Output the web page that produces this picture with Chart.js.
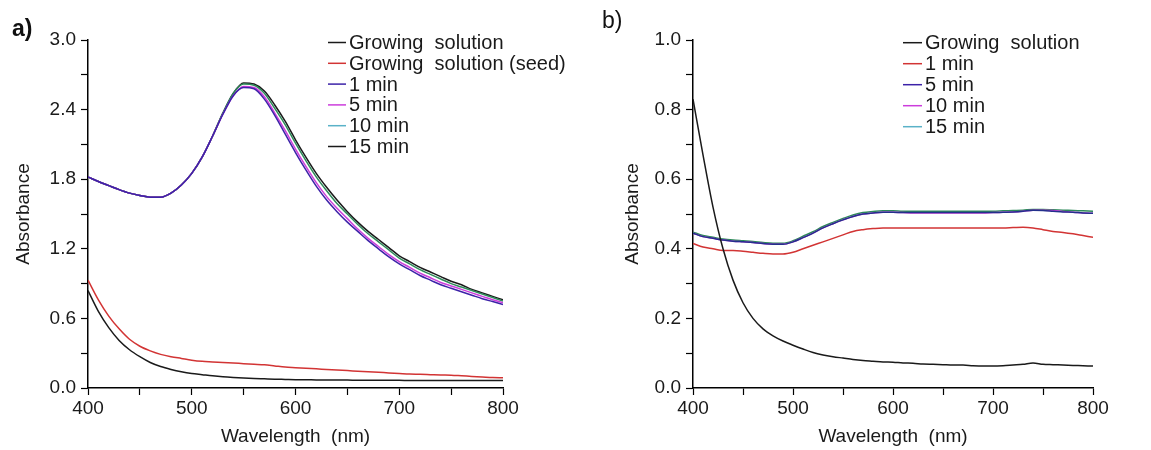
<!DOCTYPE html>
<html>
<head>
<meta charset="utf-8">
<script src="https://cdn.jsdelivr.net/npm/chart.js@4.4.1/dist/chart.umd.min.js"></script>
<style>
  html, body { margin: 0; padding: 0; background: #fff; }
  #wrap { position: relative; width: 1151px; height: 450px; overflow: hidden; }
  .panel { position: absolute; top: 0; }
  .tag { position: absolute; font-family: "Liberation Sans", Arial, sans-serif; font-size: 23px; color: #111; line-height: 1; }
</style>
</head>
<body>
<div id="wrap">
  <div class="panel" style="left:0px"><canvas id="chartA" width="590" height="450"></canvas></div>
  <div class="panel" style="left:590px"><canvas id="chartB" width="561" height="450"></canvas></div>
  <div class="tag" style="left:12px;top:17px;font-weight:bold">a)</div>
  <div class="tag" style="left:602px;top:9px">b)</div>
</div>
<script>
// wavelength grid shared by both panels (nm)
const wavelengths = [400, 410, 420, 430, 440, 450, 460, 470, 480, 490, 500, 510, 520, 530, 540, 550, 560, 570, 580, 590, 600,
  610, 620, 630, 640, 650, 660, 670, 680, 690, 700, 710, 720, 730, 740, 750, 760, 770, 780, 790, 800];

// panel a)
const aGrowing = [0.84, 0.66, 0.52, 0.41, 0.33, 0.27, 0.22, 0.185, 0.16, 0.14, 0.125, 0.115, 0.105, 0.097, 0.091, 0.086, 0.082, 0.079, 0.076, 0.074, 0.072,
  0.071, 0.07, 0.069, 0.068, 0.068, 0.067, 0.067, 0.066, 0.066, 0.066, 0.065, 0.065, 0.065, 0.065, 0.064, 0.064, 0.064, 0.064, 0.064, 0.064];
const aSeed = [0.93, 0.76, 0.62, 0.51, 0.42, 0.36, 0.32, 0.29, 0.27, 0.255, 0.24, 0.23, 0.225, 0.22, 0.215, 0.21, 0.205, 0.2, 0.19, 0.18, 0.175,
  0.17, 0.165, 0.16, 0.155, 0.15, 0.145, 0.14, 0.135, 0.13, 0.125, 0.12, 0.118, 0.115, 0.112, 0.11, 0.105, 0.1, 0.095, 0.09, 0.088];
const aMin1 = [1.82, 1.78, 1.745, 1.71, 1.68, 1.66, 1.645, 1.645, 1.68, 1.75, 1.85, 1.99, 2.17, 2.36, 2.52, 2.59, 2.58, 2.49, 2.35, 2.19, 2.03,
  1.88, 1.74, 1.62, 1.52, 1.43, 1.35, 1.27, 1.2, 1.13, 1.07, 1.02, 0.97, 0.93, 0.89, 0.86, 0.83, 0.8, 0.77, 0.745, 0.72];
const aMin5 = [1.82, 1.78, 1.745, 1.71, 1.68, 1.66, 1.645, 1.645, 1.68, 1.75, 1.85, 1.99, 2.17, 2.36, 2.52, 2.6, 2.59, 2.51, 2.37, 2.22, 2.06,
  1.91, 1.77, 1.65, 1.55, 1.46, 1.37, 1.29, 1.22, 1.15, 1.09, 1.04, 0.99, 0.95, 0.91, 0.88, 0.85, 0.82, 0.79, 0.76, 0.735];
const aMin10 = [1.82, 1.78, 1.745, 1.71, 1.68, 1.66, 1.645, 1.645, 1.68, 1.75, 1.85, 1.99, 2.17, 2.37, 2.54, 2.62, 2.61, 2.54, 2.41, 2.27, 2.11,
  1.96, 1.82, 1.7, 1.59, 1.5, 1.41, 1.33, 1.26, 1.19, 1.12, 1.07, 1.02, 0.98, 0.94, 0.9, 0.87, 0.84, 0.81, 0.78, 0.75];
const aMin15 = [1.82, 1.78, 1.745, 1.71, 1.68, 1.66, 1.645, 1.645, 1.68, 1.75, 1.85, 1.99, 2.17, 2.37, 2.54, 2.63, 2.62, 2.56, 2.44, 2.3, 2.14,
  1.99, 1.85, 1.73, 1.62, 1.52, 1.43, 1.35, 1.28, 1.21, 1.14, 1.09, 1.04, 1.0, 0.96, 0.92, 0.89, 0.85, 0.82, 0.79, 0.76];

// panel b)
const bGrowing = [0.83, 0.67, 0.52, 0.4, 0.31, 0.245, 0.2, 0.17, 0.15, 0.135, 0.123, 0.112, 0.102, 0.095, 0.09, 0.086, 0.082, 0.079, 0.077, 0.075, 0.074,
  0.072, 0.071, 0.069, 0.068, 0.067, 0.066, 0.066, 0.064, 0.063, 0.063, 0.064, 0.066, 0.068, 0.072, 0.068, 0.067, 0.066, 0.065, 0.064, 0.063];
const bMin1 = [0.415, 0.405, 0.4, 0.395, 0.395, 0.393, 0.39, 0.387, 0.385, 0.385, 0.39, 0.4, 0.41, 0.42, 0.43, 0.44, 0.45, 0.455, 0.458, 0.46, 0.46,
  0.46, 0.46, 0.46, 0.46, 0.46, 0.46, 0.46, 0.46, 0.46, 0.46, 0.46, 0.461, 0.462, 0.46, 0.455, 0.45, 0.447, 0.443, 0.438, 0.433];
const bMin5 = [0.445, 0.435, 0.43, 0.425, 0.422, 0.42, 0.418, 0.415, 0.413, 0.413, 0.42, 0.432, 0.445, 0.46, 0.472, 0.483, 0.493, 0.5, 0.503, 0.505, 0.505,
  0.504, 0.504, 0.504, 0.504, 0.504, 0.504, 0.504, 0.504, 0.504, 0.504, 0.505, 0.506, 0.508, 0.511, 0.51, 0.508, 0.506, 0.505, 0.503, 0.502];
const bMin10 = [0.445, 0.435, 0.43, 0.425, 0.422, 0.42, 0.418, 0.415, 0.413, 0.413, 0.42, 0.432, 0.445, 0.46, 0.472, 0.483, 0.493, 0.5, 0.503, 0.505, 0.505,
  0.504, 0.503, 0.503, 0.503, 0.503, 0.503, 0.503, 0.503, 0.503, 0.504, 0.505, 0.506, 0.508, 0.511, 0.511, 0.51, 0.507, 0.505, 0.503, 0.502];
const bMin15 = [0.448, 0.438, 0.433, 0.428, 0.425, 0.423, 0.421, 0.418, 0.416, 0.416, 0.423, 0.436, 0.449, 0.464, 0.476, 0.487, 0.497, 0.504, 0.507, 0.509, 0.509,
  0.508, 0.508, 0.508, 0.508, 0.508, 0.508, 0.508, 0.508, 0.508, 0.508, 0.509, 0.51, 0.511, 0.513, 0.513, 0.512, 0.511, 0.51, 0.509, 0.508];

const FONT = '"Liberation Sans", Arial, sans-serif';

function pts(ys) {
  return wavelengths.map((x, i) => ({ x: x, y: ys[i] }));
}

function ds(label, ys, color, legendColor) {
  return {
    label: label,
    data: pts(ys),
    borderColor: color,
    legendColor: legendColor || color,
    borderWidth: 1.5,
    pointRadius: 0,
    cubicInterpolationMode: "monotone",
    fill: false,
  };
}

// draws the little line-swatch legend inside the plot
const insideLegend = {
  id: "insideLegend",
  afterDraw(chart, args, opts) {
    const ctx = chart.ctx;
    ctx.save();
    ctx.font = "20px " + FONT;
    ctx.textBaseline = "middle";
    ctx.textAlign = "left";
    chart.data.datasets.forEach((d, i) => {
      const y = opts.y + i * opts.step;
      ctx.strokeStyle = d.legendColor;
      ctx.lineWidth = 1.5;
      ctx.beginPath();
      ctx.moveTo(opts.x, y);
      ctx.lineTo(opts.x + opts.swatch, y);
      ctx.stroke();
      ctx.fillStyle = "#1a1a1a";
      ctx.fillText(d.label, opts.x + opts.swatch + 3, y + 1);
    });
    ctx.restore();
  },
};

function isMajor(v, major) {
  return Math.abs(v / major - Math.round(v / major)) < 1e-6;
}

function makeOptions(yMax, yStep, yMajor, yWidth, yTitlePad, legend, padRight) {
  return {
    responsive: false,
    animation: false,
    layout: { padding: { top: 40, right: padRight, bottom: 0, left: 0 } },
    plugins: {
      legend: { display: false },
      tooltip: { enabled: false },
      insideLegend: legend,
    },
    scales: {
      x: {
        type: "linear",
        min: 400,
        max: 800,
        afterFit: (s) => { s.height = 62; },
        grid: { drawOnChartArea: false, tickLength: 7, tickColor: "#000", tickWidth: 1.2 },
        border: { color: "#000", width: 1.5 },
        ticks: {
          stepSize: 50,
          autoSkip: false,
          maxRotation: 0,
          padding: 2,
          color: "#1a1a1a",
          font: { family: FONT, size: 19 },
          callback: (v) => (isMajor(v, 100) ? String(v) : ""),
        },
        title: {
          display: true,
          text: "Wavelength  (nm)",
          color: "#1a1a1a",
          font: { family: FONT, size: 19 },
          padding: { top: 0, bottom: 2 },
        },
      },
      y: {
        min: 0,
        max: yMax,
        afterFit: (s) => { s.width = yWidth; },
        grid: { drawOnChartArea: false, tickLength: 7, tickColor: "#000", tickWidth: 1.2 },
        border: { color: "#000", width: 1.5 },
        ticks: {
          stepSize: yStep,
          autoSkip: false,
          padding: 5,
          color: "#1a1a1a",
          font: { family: FONT, size: 19 },
          callback: (v) => (isMajor(v, yMajor) ? v.toFixed(1) : ""),
        },
        title: {
          display: true,
          text: "Absorbance",
          color: "#1a1a1a",
          font: { family: FONT, size: 19 },
          padding: { top: yTitlePad, bottom: 0 },
        },
      },
    },
  };
}

new Chart(document.getElementById("chartA"), {
  type: "line",
  data: {
    datasets: [
      ds("Growing  solution", aGrowing, "#1a1a1a"),
      ds("Growing  solution (seed)", aSeed, "#d23434"),
      ds("1 min", aMin1, "#3c22a8"),
      ds("5 min", aMin5, "#cc3ddc"),
      ds("10 min", aMin10, "#2e8a5a", "#5ab2c8"),
      ds("15 min", aMin15, "#1a1a1a"),
    ],
  },
  options: makeOptions(3.0, 0.3, 0.6, 88, 12, { x: 328, y: 42.5, step: 20.8, swatch: 18 }, 87),
  plugins: [insideLegend],
});

new Chart(document.getElementById("chartB"), {
  type: "line",
  data: {
    datasets: [
      ds("Growing  solution", bGrowing, "#1a1a1a"),
      ds("1 min", bMin1, "#d23434"),
      ds("5 min", bMin5, "#24308c", "#3c22a8"),
      ds("10 min", bMin10, "#cc3ddc"),
      ds("15 min", bMin15, "#2e8a5a", "#5ab2c8"),
    ],
  },
  options: makeOptions(1.0, 0.1, 0.2, 103, 31, { x: 313, y: 42.7, step: 21, swatch: 19 }, 58),
  plugins: [insideLegend],
});
</script>
</body>
</html>
